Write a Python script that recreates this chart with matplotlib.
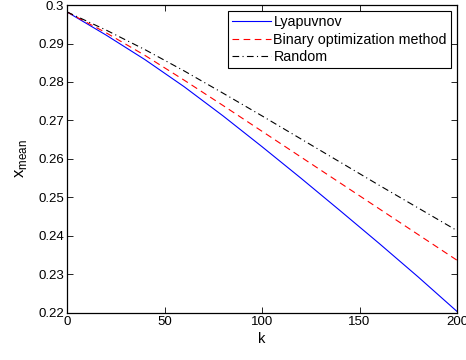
import numpy as np
import matplotlib
matplotlib.use('Agg')
import matplotlib.pyplot as plt

# values
k = [0, 20, 40, 60, 80, 100, 120, 140, 160, 180, 200]
lyapunov = [0.2982, 0.2922, 0.2858, 0.2788, 0.2712, 0.2632, 0.2550, 0.2466, 0.2381, 0.2294, 0.2204]
binary = [0.2982, 0.2928, 0.2869, 0.2805, 0.2739, 0.2672, 0.2605, 0.2538, 0.2471, 0.2404, 0.2337]
rand_ = [0.2982, 0.2935, 0.2884, 0.2829, 0.2771, 0.2712, 0.2652, 0.2592, 0.2532, 0.2473, 0.2414]

plt.rcParams['font.family'] = ['Liberation Sans', 'DejaVu Sans']
plt.rcParams['font.size'] = 9.5
plt.rcParams['mathtext.fontset'] = 'custom'
plt.rcParams['mathtext.rm'] = 'Liberation Sans'

fig = plt.figure(figsize=(4.66, 3.6), dpi=100)
ax = fig.add_axes([0.1438, 0.1306, 0.8369, 0.8555])

ax.plot(k, lyapunov, color='blue', lw=0.8, label='Lyapuvnov')
ax.plot(k, binary, color='red', lw=0.8, dashes=(6, 4), label='Binary optimization method')
ax.plot(k, rand_, color='black', lw=0.8, dashes=(6, 3, 1, 3), label='Random')

ax.set_xlim(0, 200)
ax.set_ylim(0.22, 0.3)
ax.set_xticks([0, 50, 100, 150, 200])
ax.set_yticks([0.22, 0.23, 0.24, 0.25, 0.26, 0.27, 0.28, 0.29, 0.3])
ax.set_yticklabels(['0.22', '0.23', '0.24', '0.25', '0.26', '0.27', '0.28', '0.29', '0.3'])
ax.tick_params(direction='in', top=True, right=True, length=4, width=0.6, pad=2)
for s in ax.spines.values():
    s.set_linewidth(0.9)

ax.set_xlabel('k', fontsize=10.5, labelpad=3)
ax.set_ylabel(r'x$_{\mathrm{mean}}$', fontsize=12, labelpad=7)

leg = ax.legend(loc='upper right', handlelength=2.7, labelspacing=0.25,
                borderaxespad=0.45, fancybox=False, framealpha=1, fontsize=10.3,
                edgecolor='black', borderpad=0.25, handletextpad=0.2)
leg.get_frame().set_linewidth(0.8)

fig.savefig('out.png', dpi=100)
